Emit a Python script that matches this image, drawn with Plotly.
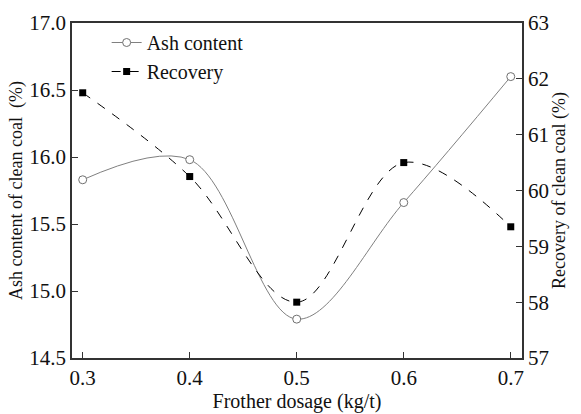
import plotly.graph_objects as go

dosage = [0.3, 0.4, 0.5, 0.6, 0.7]
ash_content = [15.83, 15.98, 14.79, 15.66, 16.60]
recovery = [61.75, 60.25, 58.00, 60.50, 59.35]

x_ticks = [0.3, 0.4, 0.5, 0.6, 0.7]
x_tick_labels = ["0.3", "0.4", "0.5", "0.6", "0.7"]
left_ticks = [14.5, 15.0, 15.5, 16.0, 16.5, 17.0]
right_ticks = [57, 58, 59, 60, 61, 62, 63]

FONT = "Liberation Serif, Times New Roman, serif"
AX = "#333333"

fig = go.Figure()
fig.add_trace(go.Scatter(
    x=dosage, y=ash_content, name="Ash content", mode="lines+markers",
    line=dict(color="#808080", width=1, shape="spline", smoothing=1.0),
    marker=dict(symbol="circle", size=8, color="white", line=dict(color="#707070", width=1)),
))
fig.add_trace(go.Scatter(
    x=dosage, y=recovery, name="Recovery", mode="lines+markers", yaxis="y2",
    line=dict(color="black", width=1, dash="dash", shape="spline", smoothing=1.0),
    marker=dict(symbol="square", size=7, color="black"),
))

common = dict(showgrid=False, zeroline=False, showline=True, linecolor=AX, linewidth=1.5,
              automargin=False,
              ticks="inside", ticklen=6, tickcolor=AX, tickfont=dict(family=FONT, size=21, color="#111"))

fig.update_layout(
    width=581, height=414,
    margin=dict(l=72, r=59, t=23, b=56),
    paper_bgcolor="white", plot_bgcolor="white",
    font=dict(family=FONT, size=18, color="#111"),
    xaxis=dict(range=[0.29, 0.7105], tickvals=x_ticks, ticktext=x_tick_labels, mirror=True,
               title=dict(text="Frother dosage (kg/t)", font=dict(family=FONT, size=20), standoff=2),
               **common),
    yaxis=dict(range=[14.5, 17.0], tickvals=left_ticks, tickformat=".1f",
               title=dict(text="Ash content of clean coal  (%)", font=dict(family=FONT, size=18), standoff=2),
               **common),
    yaxis2=dict(range=[57, 63], tickvals=right_ticks, overlaying="y", side="right",
                title=dict(text="Recovery of clean coal (%)", font=dict(family=FONT, size=18), standoff=3),
                **common),
    legend=dict(x=0.077, y=1.0, xanchor="left", yanchor="top", bgcolor="rgba(0,0,0,0)",
                font=dict(family=FONT, size=20), itemwidth=30, tracegroupgap=2),
    showlegend=True,
)

fig.write_html("out.html", config={"displayModeBar": False},
               post_script="document.body.style.margin='0';document.body.style.padding='0';")
